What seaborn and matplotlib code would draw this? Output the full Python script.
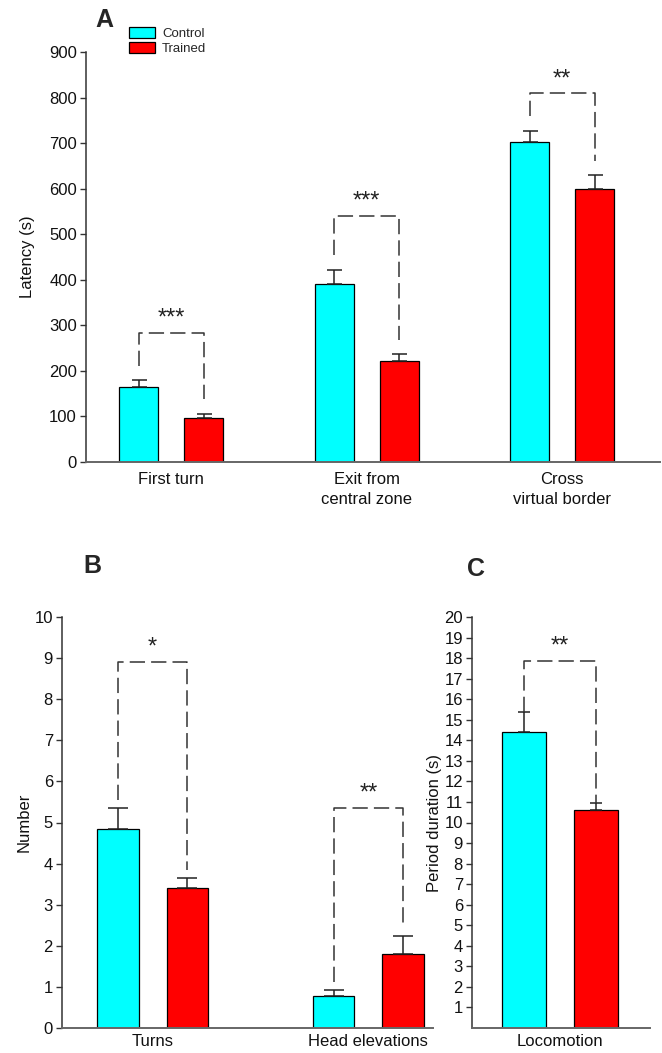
import numpy as np
import pandas as pd
import matplotlib
matplotlib.use("Agg")
import matplotlib.pyplot as plt
import seaborn as sns

# ---------------- data ----------------
groups = ["Control", "Trained"]
group_colors = ["#00FFFF", "#FF0000"]

a_categories = ["First turn", "Exit from\ncentral zone", "Cross\nvirtual border"]
a_control = [165, 391, 703]
a_control_sem = [15, 31, 24]
a_trained = [97, 222, 600]
a_trained_sem = [9, 15, 29]
a_sig = ["***", "***", "**"]
a_bracket = [284, 541, 809]
a_yticks = [0, 100, 200, 300, 400, 500, 600, 700, 800, 900]

b_categories = ["Turns", "Head elevations"]
b_control = [4.84, 0.78]
b_control_sem = [0.51, 0.14]
b_trained = [3.41, 1.80]
b_trained_sem = [0.24, 0.44]
b_sig = ["*", "**"]
b_bracket = [8.9, 5.35]
b_yticks = [0, 1, 2, 3, 4, 5, 6, 7, 8, 9, 10]

c_categories = ["Locomotion"]
c_control = [14.4]
c_control_sem = [0.98]
c_trained = [10.6]
c_trained_sem = [0.35]
c_sig = ["**"]
c_bracket = [17.86]
c_yticks = [1, 2, 3, 4, 5, 6, 7, 8, 9, 10, 11, 12, 13, 14, 15, 16, 17, 18, 19, 20]

# ---------------- style ----------------
sns.set_theme(style="white")
plt.rcParams["font.family"] = ["Liberation Sans", "DejaVu Sans"]

W, H = 662, 1053
fig = plt.figure(figsize=(W / 100, H / 100), dpi=100)
fig.patch.set_facecolor("white")


def px_axes(left, right, top, bottom):
    return fig.add_axes([left / W, 1 - bottom / H, (right - left) / W, (bottom - top) / H])


def panel(ax, cats, ctrl, ctrl_sem, trn, trn_sem, sig, bracket, ylim, yticks,
          ylabel, labelpad, xlim, width, capsize, star_off, gap_frac, xpad,
          show_legend=False):
    n = len(cats)
    df = pd.DataFrame({
        "category": list(cats) * 2,
        "group": ["Control"] * n + ["Trained"] * n,
        "value": list(ctrl) + list(trn),
    })
    sns.barplot(data=df, x="category", y="value", hue="group", hue_order=groups,
                palette=group_colors, saturation=1, width=width, gap=0.4,
                edgecolor="black", linewidth=0.9, errorbar=None, ax=ax,
                legend=show_legend)
    sems = [ctrl_sem, trn_sem]
    centers = []
    tops = []
    for gi, cont in enumerate(ax.containers[:2]):
        cx, ct = [], []
        for bar, s in zip(cont.patches, sems[gi]):
            x = bar.get_x() + bar.get_width() / 2
            h = bar.get_height()
            ax.errorbar([x], [h], yerr=[[0], [s]], fmt="none", ecolor="#222222",
                        elinewidth=1.1, capsize=capsize, capthick=1.1, zorder=3)
            cx.append(x)
            ct.append(h + s)
        centers.append(cx)
        tops.append(ct)
    span = ylim[1] - ylim[0]
    for i in range(n):
        x1, x2 = centers[0][i], centers[1][i]
        yb = bracket[i]
        y1 = tops[0][i] + gap_frac * span
        y2 = tops[1][i] + gap_frac * span
        ax.plot([x1, x1, x2, x2], [y1, yb, yb, y2], color="#333333", lw=1.1,
                ls=(0, (10, 4)), solid_capstyle="butt", zorder=3)
        ax.text((x1 + x2) / 2, yb + star_off * span, sig[i], ha="center", va="bottom",
                fontsize=17, color="#222222")
    ax.set_ylim(*ylim)
    ax.set_xlim(*xlim)
    ax.set_yticks(yticks)
    ax.set_yticklabels([str(t) for t in yticks])
    ax.set_xlabel("")
    ax.set_ylabel(ylabel, fontsize=12, labelpad=labelpad, color="#111111")
    for s in ["top", "right"]:
        ax.spines[s].set_visible(False)
    ax.spines["left"].set_color("#333333")
    ax.spines["left"].set_linewidth(1.1)
    ax.spines["bottom"].set_color("#666666")
    ax.spines["bottom"].set_linewidth(1.4)
    ax.tick_params(axis="y", left=True, direction="out", length=4.5, width=1.0,
                   color="#333333", labelsize=12, pad=2, labelcolor="#111111")
    ax.tick_params(axis="x", bottom=False, length=0, labelsize=12, pad=xpad,
                   labelcolor="#111111")
    for lbl in ax.get_xticklabels():
        lbl.set_linespacing(1.4)
    ax.set_facecolor("white")
    ax.grid(False)


axA = px_axes(86, 660, 52, 462)
panel(axA, a_categories, a_control, a_control_sem, a_trained, a_trained_sem,
      a_sig, a_bracket, (0, 900), a_yticks, "Latency (s)", 10,
      (-0.435, 2.50), 0.666, 5.4, 0.008, 0.035, 7.5, show_legend=True)
handles, labels = axA.get_legend_handles_labels()
axA.get_legend().remove()
fig.legend(handles, labels, loc="upper left", bbox_to_anchor=(129 / W, 1 - 27 / H),
           frameon=False, fontsize=9.5, handlelength=2.0, handleheight=0.9,
           labelspacing=0.12, handletextpad=0.5, borderpad=0, borderaxespad=0)

axB = px_axes(62, 433, 617, 1028)
panel(axB, b_categories, b_control, b_control_sem, b_trained, b_trained_sem,
      b_sig, b_bracket, (0, 10), b_yticks, "Number", 2,
      (-0.42, 1.30), 0.645, 7.0, 0.008, 0.02, 4.5)

axC = px_axes(472, 650, 617, 1028)
panel(axC, c_categories, c_control, c_control_sem, c_trained, c_trained_sem,
      c_sig, c_bracket, (0, 20), c_yticks, "Period duration (s)", 2,
      (-0.393, 0.402), 0.645, 4.2, 0.008, 0.0, 4.5)

fig.text(95 / W, 1 - 8 / H, "A", fontsize=18, fontweight="bold", va="top", ha="left")
fig.text(83 / W, 1 - 554 / H, "B", fontsize=18, fontweight="bold", va="top", ha="left")
fig.text(467 / W, 1 - 557 / H, "C", fontsize=18, fontweight="bold", va="top", ha="left")

fig.savefig("out.png", dpi=100, facecolor="white")
